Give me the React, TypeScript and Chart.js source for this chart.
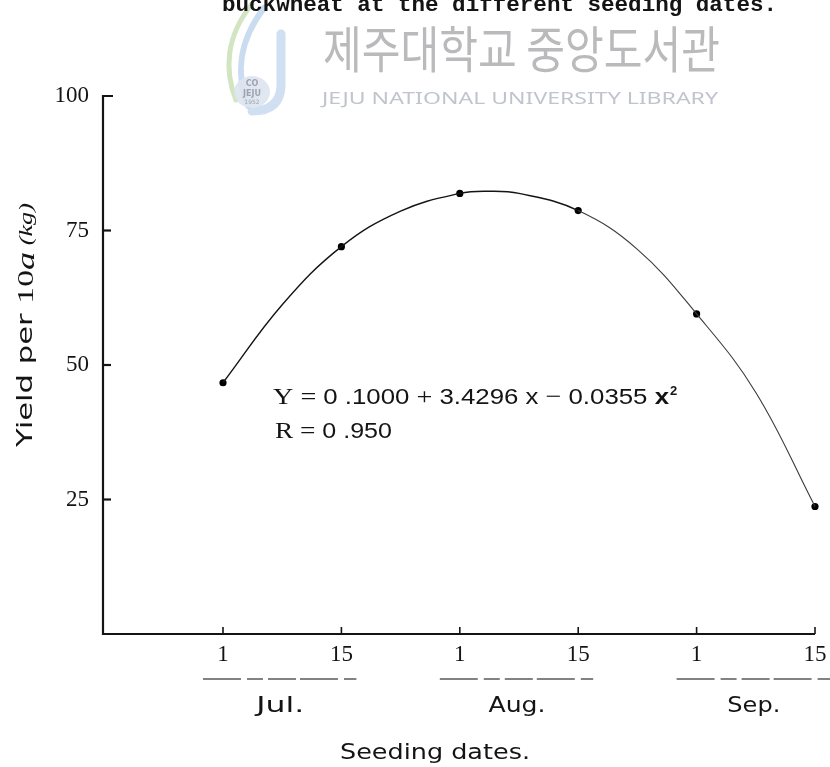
import React, { useEffect, useRef } from 'react';
import { Chart, registerables } from 'chart.js';

Chart.register(...registerables);

// Seeding dates (half-month steps) and yields per 10a
const dateLabels = ['1', '15', '1', '15', '1', '15'];
const datePositions = [0, 1, 2, 3, 4, 5];
const months = ['Jul.', 'Aug.', 'Sep.'];
const yields = [46.7, 72.0, 81.9, 78.7, 59.5, 23.7];
const yTicks = [25, 50, 75, 100];

// Regression curve
const curvePositions = [0, 0.5, 1, 1.5, 2, 2.25, 2.5, 3, 3.5, 4, 4.5, 5];
const curveYields = [46.7, 61.2, 72.0, 78.6, 81.9, 82.3, 81.9, 78.7, 71.5, 59.5, 44.9, 23.7];

const caption = 'buckwheat at the different seeding dates.';
const xTitle = 'Seeding dates.';
const libraryName = '제주대학교 중앙도서관';
const libraryNameEn = 'JEJU NATIONAL UNIVERSITY LIBRARY';

const SERIF = '"Liberation Serif"';
const SANS = '"Liberation Sans"';
const equationParts: [string, string][] = [
  ['Y', `24px ${SERIF}`],
  [' = ', `24px ${SERIF}`],
  ['0 .1000', `22px ${SANS}`],
  [' + ', `24px ${SERIF}`],
  ['3.4296', `22px ${SANS}`],
  [' x ', `22px ${SANS}`],
  ['\u2212 ', `24px ${SERIF}`],
  ['0.0355', `22px ${SANS}`],
  [' x', `bold 22px ${SANS}`],
];
const rParts: [string, string][] = [
  ['R', `24px ${SERIF}`],
  [' = ', `24px ${SERIF}`],
  ['0 .950', `22px ${SANS}`],
];

const W = 830;
const H = 767;
const INK = '#141414';

function fitText(
  ctx: CanvasRenderingContext2D,
  text: string,
  x: number,
  y: number,
  width: number,
  align: 'left' | 'center' = 'left'
) {
  const m = ctx.measureText(text).width;
  const s = width / m;
  ctx.save();
  ctx.translate(x, y);
  ctx.scale(s, 1);
  ctx.textAlign = 'left';
  ctx.fillText(text, align === 'center' ? -m / 2 : 0, 0);
  ctx.restore();
}

// Draws a run of differently styled pieces, squeezed/stretched to a width.
function fitParts(
  ctx: CanvasRenderingContext2D,
  parts: [string, string][],
  x: number,
  y: number,
  width: number
) {
  let total = 0;
  parts.forEach(([t, f]) => {
    ctx.font = f;
    total += ctx.measureText(t).width;
  });
  ctx.save();
  ctx.translate(x, y);
  ctx.scale(width / total, 1);
  ctx.textAlign = 'left';
  let cx = 0;
  parts.forEach(([t, f]) => {
    ctx.font = f;
    ctx.fillText(t, cx, 0);
    cx += ctx.measureText(t).width;
  });
  ctx.restore();
  return x + width;
}

function drawWatermark(ctx: CanvasRenderingContext2D) {
  ctx.save();
  ctx.lineCap = 'round';
  // emblem swooshes
  ctx.strokeStyle = 'rgba(180, 212, 155, 0.6)';
  ctx.lineWidth = 5;
  ctx.beginPath();
  ctx.moveTo(252, 4);
  ctx.bezierCurveTo(226, 36, 224, 70, 236, 100);
  ctx.stroke();
  ctx.strokeStyle = 'rgba(165, 196, 230, 0.6)';
  ctx.lineWidth = 6;
  ctx.beginPath();
  ctx.moveTo(264, 8);
  ctx.bezierCurveTo(238, 42, 236, 76, 248, 106);
  ctx.stroke();
  ctx.strokeStyle = 'rgba(170, 198, 232, 0.55)';
  ctx.lineWidth = 9;
  ctx.beginPath();
  ctx.moveTo(281, 34);
  ctx.lineTo(281, 86);
  ctx.quadraticCurveTo(280, 111, 252, 111);
  ctx.stroke();
  ctx.fillStyle = 'rgba(222, 228, 238, 0.9)';
  ctx.beginPath();
  ctx.ellipse(252, 92, 18, 16, 0, 0, Math.PI * 2);
  ctx.fill();
  ctx.fillStyle = 'rgba(150, 155, 170, 0.9)';
  ctx.font = 'bold 8px "DejaVu Sans"';
  ctx.textAlign = 'center';
  ctx.textBaseline = 'middle';
  ctx.fillText('CO', 252, 84);
  ctx.fillText('JEJU', 252, 94);
  ctx.font = '6px "DejaVu Sans"';
  ctx.fillText('1952', 252, 102);

  // library name
  ctx.fillStyle = 'rgba(186, 186, 188, 1)';
  ctx.textBaseline = 'alphabetic';
  ctx.font = '50px "Noto Sans CJK KR"';
  fitText(ctx, libraryName, 323, 68, 397);
  ctx.fillStyle = 'rgba(192, 197, 205, 1)';
  ctx.font = '17px "Noto Sans"';
  fitText(ctx, libraryNameEn, 322, 104, 396);
  ctx.restore();
}

const decorPlugin = {
  id: 'figureDecor',
  beforeDraw(chart: any) {
    const ctx: CanvasRenderingContext2D = chart.ctx;
    ctx.save();
    ctx.fillStyle = '#fff';
    ctx.fillRect(0, 0, W, H);
    ctx.restore();
    drawWatermark(ctx);
  },
  beforeDatasetsDraw(chart: any) {
    const ctx: CanvasRenderingContext2D = chart.ctx;
    const xs = chart.scales.x;
    const ys = chart.scales.y;
    const x0 = xs.getPixelForValue(xs.min);
    const x1 = xs.getPixelForValue(datePositions[datePositions.length - 1]);
    const yb = ys.getPixelForValue(0);
    const yt = ys.getPixelForValue(100);

    ctx.save();
    ctx.strokeStyle = INK;
    ctx.fillStyle = INK;
    ctx.lineWidth = 2.2;
    ctx.lineCap = 'butt';

    // axes frame
    ctx.beginPath();
    ctx.moveTo(x0 + 10, yt);
    ctx.lineTo(x0, yt);
    ctx.lineTo(x0, yb);
    ctx.lineTo(x1, yb);
    ctx.stroke();

    // y ticks (inward) and labels
    ctx.font = `23px ${SERIF}`;
    ctx.textAlign = 'right';
    ctx.textBaseline = 'middle';
    yTicks.forEach((v) => {
      const py = ys.getPixelForValue(v);
      if (v !== 100) {
        ctx.beginPath();
        ctx.moveTo(x0, py);
        ctx.lineTo(x0 + 8, py);
        ctx.stroke();
      }
      ctx.fillText(String(v), x0 - 14, py);
    });

    // x ticks (upward) and day labels
    ctx.textAlign = 'center';
    ctx.lineWidth = 1.6;
    datePositions.forEach((p, i) => {
      const px = xs.getPixelForValue(p);
      ctx.beginPath();
      ctx.moveTo(px, yb);
      ctx.lineTo(px, yb - 7);
      ctx.stroke();
      ctx.fillText(dateLabels[i], px, yb + 21);
    });

    // month groups: underline and name
    const monthWidths = [48, 57, 53];
    months.forEach((m, k) => {
      const pa = xs.getPixelForValue(datePositions[k * 2]);
      const pb = xs.getPixelForValue(datePositions[k * 2 + 1]);
      ctx.save();
      ctx.strokeStyle = '#5a5a5a';
      ctx.lineWidth = 1.3;
      ctx.setLineDash([38, 6, 16, 5, 28, 4]);
      ctx.beginPath();
      ctx.moveTo(pa - 20, yb + 45);
      ctx.lineTo(pb + 15, yb + 45);
      ctx.stroke();
      ctx.restore();
      ctx.font = '21px "DejaVu Sans"';
      ctx.textBaseline = 'middle';
      fitText(ctx, m, (pa + pb) / 2 - 2, yb + 73, monthWidths[k], 'center');
    });

    // x axis title
    ctx.font = '21px "DejaVu Sans"';
    fitText(ctx, xTitle, 435, yb + 120, 190, 'center');

    // y axis title (rotated)
    ctx.save();
    ctx.translate(27, 447);
    ctx.rotate(-Math.PI / 2);
    ctx.textBaseline = 'middle';
    fitParts(
      ctx,
      [
        ['Yield per ', '21px "DejaVu Sans"'],
        ['10', `23px ${SERIF}`],
        ['a', `italic 25px ${SERIF}`],
        [' (', `italic 18px ${SERIF}`],
        ['kg', `italic 18px ${SERIF}`],
        [')', `italic 18px ${SERIF}`],
      ],
      0,
      0,
      244
    );
    ctx.restore();

    // regression annotation
    ctx.textBaseline = 'middle';
    const eqEnd = fitParts(ctx, equationParts, 273, 398, 396);
    ctx.font = `bold 13px ${SANS}`;
    ctx.textAlign = 'left';
    ctx.fillText('2', eqEnd + 1, 391);
    fitParts(ctx, rParts, 275, 432, 117);

    // caption line at the top
    ctx.font = `bold 22px "Liberation Mono"`;
    ctx.textBaseline = 'alphabetic';
    fitText(ctx, caption, 222, 11, 555);

    ctx.restore();
  },
};

export default function App() {
  const canvasRef = useRef<HTMLCanvasElement | null>(null);

  useEffect(() => {
    if (!canvasRef.current) return;
    const chart = new Chart(canvasRef.current, {
      type: 'line',
      data: {
        datasets: [
          {
            // fitted regression line
            data: curvePositions.map((x, i) => ({ x, y: curveYields[i] })),
            borderColor: INK,
            borderWidth: 1.4,
            tension: 0.4,
            pointRadius: 0,
            fill: false,
            clip: false,
            segment: {
              borderColor: (c: any) => (c.p0.parsed.x >= 3 ? '#3a3a3a' : INK),
              borderWidth: (c: any) => (c.p0.parsed.x >= 3 ? 1.1 : 1.4),
            },
          } as any,
          {
            // observed yields
            data: datePositions.map((x, i) => ({ x, y: yields[i] })),
            showLine: false,
            pointRadius: 3.6,
            pointBackgroundColor: '#000',
            pointBorderWidth: 0,
            clip: false,
          } as any,
        ],
      },
      options: {
        responsive: false,
        animation: false,
        devicePixelRatio: 1,
        events: [],
        layout: { padding: { left: 103, right: 15, top: 96, bottom: 133 } },
        plugins: {
          legend: { display: false },
          tooltip: { enabled: false },
        },
        scales: {
          x: { type: 'linear', min: -1.0135, max: 5, display: false },
          y: { min: 0, max: 100, display: false },
        },
      },
      plugins: [decorPlugin],
    });
    return () => chart.destroy();
  }, []);

  return (
    <div style={{ position: 'absolute', left: 0, top: 0, width: W, height: H, background: '#fff' }}>
      <canvas ref={canvasRef} width={W} height={H} style={{ display: 'block' }} />
    </div>
  );
}
